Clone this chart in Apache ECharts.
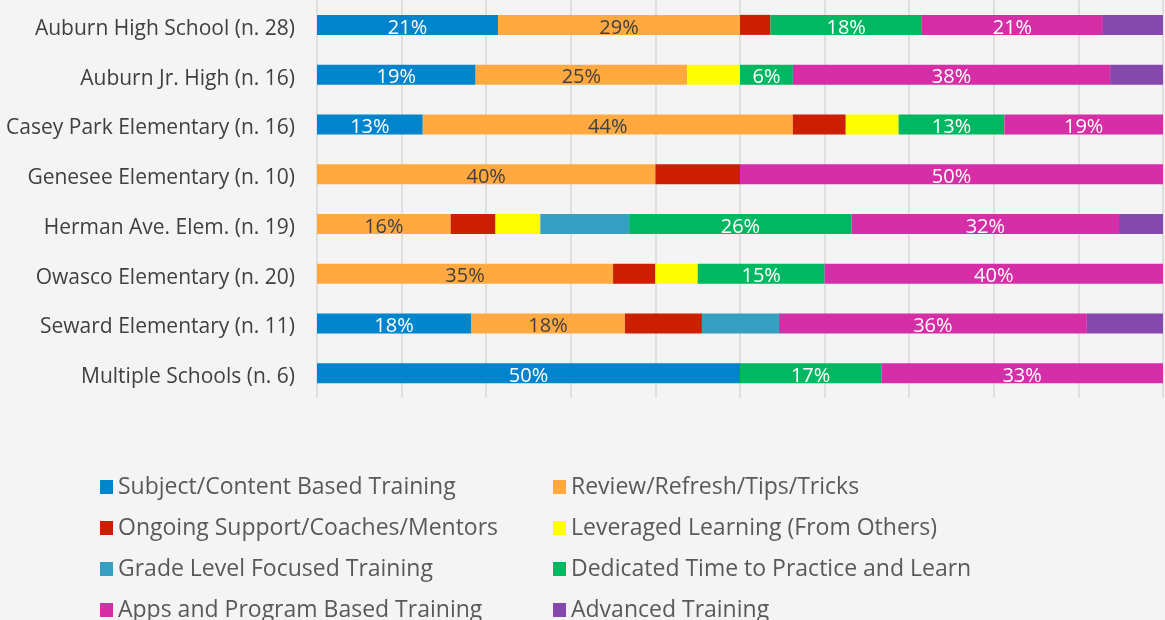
<!DOCTYPE html>
<html>
<head>
<meta charset="utf-8">
<script src="https://cdn.jsdelivr.net/npm/echarts@6/dist/echarts.min.js"></script>
<style>
  html, body { margin: 0; padding: 0; background: #f4f4f4; }
  #main { width: 1165px; height: 620px; }
</style>
</head>
<body>
<div id="main"></div>
<script>
// schools, top to bottom
var schools = ['Auburn High School (n. 28)', 'Auburn Jr. High (n. 16)', 'Casey Park Elementary (n. 16)',
  'Genesee Elementary (n. 10)', 'Herman Ave. Elem. (n. 19)', 'Owasco Elementary (n. 20)',
  'Seward Elementary (n. 11)', 'Multiple Schools (n. 6)']

// share of answers per school, in %
var subjectContent = [21.4, 18.75, 12.5, 0, 0, 0, 18.2, 50]
var reviewRefresh = [28.6, 25, 43.75, 40, 15.8, 35, 18.2, 0]
var ongoingSupport = [3.6, 0, 6.25, 10, 5.3, 5, 9.1, 0]
var leveragedLearning = [0, 6.25, 6.25, 0, 5.3, 5, 0, 0]
var gradeLevel = [0, 0, 0, 0, 10.5, 0, 9.1, 0]
var dedicatedTime = [17.9, 6.25, 12.5, 0, 26.3, 15, 0, 16.7]
var appsProgram = [21.4, 37.5, 18.75, 50, 31.6, 40, 36.4, 33.3]
var advanced = [7.1, 6.25, 0, 0, 5.3, 0, 9.1, 0]

var seriesNames = ['Subject/Content Based Training', 'Review/Refresh/Tips/Tricks',
  'Ongoing Support/Coaches/Mentors', 'Leveraged Learning (From Others)',
  'Grade Level Focused Training', 'Dedicated Time to Practice and Learn',
  'Apps and Program Based Training', 'Advanced Training']
var seriesData = [subjectContent, reviewRefresh, ongoingSupport, leveragedLearning,
  gradeLevel, dedicatedTime, appsProgram, advanced]
var colors = ['#0084cc', '#ffa940', '#cc1e00', '#ffff00', '#349fc0', '#00b862', '#d62ea7', '#8549ae']
// which series carry a value label, and its colour
var labelColors = ['#ffffff', '#404040', null, null, null, '#ffffff', '#ffffff', null]

var font = '"Open Sans", "DejaVu Sans", sans-serif'

var series = seriesData.map(function (data, i) {
  return {
    name: seriesNames[i],
    type: 'bar',
    stack: 'total',
    barWidth: 20,
    data: data,
    itemStyle: { color: colors[i] },
    label: {
      show: labelColors[i] != null,
      position: 'inside',
      offset: [0, 3],
      color: labelColors[i] || '#fff',
      fontFamily: font,
      fontSize: 20,
      formatter: function (p) {
        return p.value > 0 ? Math.round(p.value) + '%' : ''
      }
    }
  }
})

var legendText = { color: '#595959', fontFamily: font, fontSize: 23, lineHeight: 24 }

var myChart = echarts.init(document.getElementById('main'))
myChart.setOption({
  backgroundColor: '#f4f4f4',
  animation: false,
  color: colors,
  grid: { left: 317, right: 2, top: 0, height: 398 },
  xAxis: {
    type: 'value',
    min: 0,
    max: 100,
    interval: 10,
    axisLabel: { show: false },
    axisLine: { show: false },
    axisTick: { show: false },
    splitLine: { lineStyle: { color: '#d9d9d9', width: 1.5 } }
  },
  yAxis: {
    type: 'category',
    inverse: true,
    data: schools,
    axisLine: { show: false },
    axisTick: { show: false },
    axisLabel: {
      margin: 22,
      formatter: '{s|{value}}',
      rich: {
        s: { color: '#404040', fontFamily: font, fontSize: 21, padding: [8, 0, 0, 0] }
      }
    }
  },
  legend: [
    {
      orient: 'vertical',
      left: 95,
      top: 470,
      height: 300,
      itemWidth: 13,
      itemHeight: 14,
      itemGap: 17,
      icon: 'rect',
      textStyle: legendText,
      data: [seriesNames[0], seriesNames[2], seriesNames[4], seriesNames[6]]
    },
    {
      orient: 'vertical',
      left: 548,
      top: 470,
      height: 300,
      itemWidth: 13,
      itemHeight: 14,
      itemGap: 17,
      icon: 'rect',
      textStyle: legendText,
      data: [seriesNames[1], seriesNames[3], seriesNames[5], seriesNames[7]]
    }
  ],
  series: series
})
</script>
</body>
</html>
